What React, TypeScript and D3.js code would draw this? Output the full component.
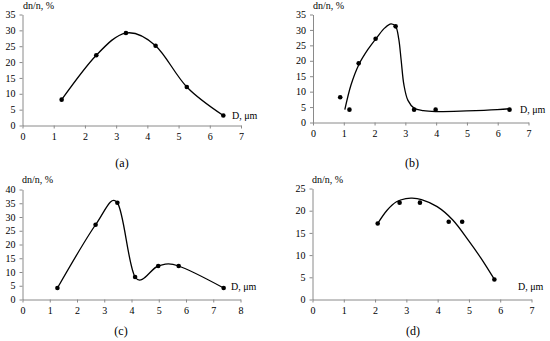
import React, { useEffect, useRef } from 'react';
import * as d3 from 'd3';

// (a) measured points, curve passes through them
const aD = [1.27, 2.38, 3.33, 4.28, 5.28, 6.45];
const aN = [8, 22, 29, 25, 12, 3];

const bD = [0.9, 1.2, 1.5, 2.05, 2.7, 3.3, 4.0, 6.4];
const bN = [8, 4, 19, 27, 31, 4, 4, 4];
const bFitD = [1.05, 1.25, 1.5, 1.8, 2.1, 2.35, 2.55, 2.7, 2.8, 2.88, 2.97, 3.1, 3.3, 3.6, 4.0, 5.0, 6.0, 6.4];
const bFitN = [4, 12, 18.5, 23.5, 27.5, 30.5, 31.8, 31, 27, 20, 12, 7, 4.5, 3.7, 3.4, 3.6, 4.0, 4.3];

// (c) measured points, curve passes through them
const cD = [1.3, 2.7, 3.5, 4.15, 5.0, 5.75, 7.4];
const cN = [4, 27, 35, 8, 12, 12, 4];

// (d) measured points and the fitted curve
const dD = [2.1, 2.8, 3.45, 4.37, 4.8, 5.83];
const dN = [17, 21.7, 21.7, 17.4, 17.4, 4.4];
const dFitD = [2.1, 2.4, 2.7, 3.0, 3.2, 3.5, 4.0, 4.5, 5.0, 5.4, 5.83];
const dFitN = [17, 20, 21.9, 22.6, 22.7, 22.4, 20.8, 17.8, 13.2, 9.2, 4.4];

const panels = [
  { id: 'a', d: aD, n: aN, fd: aD, fn: aN, xMax: 7, yMax: 35, x0: 22, x1: 240.5, y0: 125, y1: 14,
    yLab: [23, 9], xLab: [232, 119], cap: [122, 167] },
  { id: 'b', d: bD, n: bN, fd: bFitD, fn: bFitN, xMax: 7, yMax: 35, x0: 312.5, x1: 528, y0: 122, y1: 14,
    yLab: [313, 9], xLab: [520, 113], cap: [412, 167] },
  { id: 'c', d: cD, n: cN, fd: cD, fn: cN, xMax: 8, yMax: 40, x0: 22, x1: 240, y0: 299, y1: 189,
    yLab: [22, 183], xLab: [231, 290], cap: [121, 335] },
  { id: 'd', d: dD, n: dN, fd: dFitD, fn: dFitN, xMax: 7, yMax: 25, x0: 312, x1: 531, y0: 299, y1: 188,
    yLab: [312, 183], xLab: [518, 290], cap: [413, 335] },
];

const App = () => {
  const svgRef = useRef(null);

  useEffect(() => {
    const svg = d3.select(svgRef.current);
    svg.selectAll('*').remove();
    const font = 'Liberation Serif';

    panels.forEach((p) => {
      const x = d3.scaleLinear().domain([0, p.xMax]).range([p.x0, p.x1]);
      const y = d3.scaleLinear().domain([0, p.yMax]).range([p.y0, p.y1]);
      const g = svg.append('g');

      const xa = g.append('g')
        .attr('transform', `translate(0.5, ${p.y0 + 0.5})`)
        .call(d3.axisBottom(x).tickValues(d3.range(0, p.xMax + 1)).tickFormat(d3.format('d'))
          .tickSize(3).tickSizeOuter(0).tickPadding(4));
      const ya = g.append('g')
        .attr('transform', `translate(${p.x0 + 0.5}, 0.5)`)
        .call(d3.axisLeft(y).tickValues(d3.range(0, p.yMax + 1, 5)).tickFormat(d3.format('d'))
          .tickSize(3).tickSizeOuter(0).tickPadding(4));
      [xa, ya].forEach((a) => {
        a.attr('font-family', null);
        a.selectAll('path, line').attr('stroke', '#8a8a8a');
        a.selectAll('text').style('font-family', font).style('font-size', '10px').attr('fill', '#000');
      });

      const line = d3.line()
        .x((v) => x(v[0]))
        .y((v) => y(v[1]))
        .curve(p.fd === p.d ? d3.curveCardinal.tension(0) : d3.curveCatmullRom);
      g.append('path')
        .attr('d', line(p.fd.map((v, i) => [v, p.fn[i]])))
        .attr('fill', 'none')
        .attr('stroke', '#000')
        .attr('stroke-width', 1.3);

      g.selectAll('circle')
        .data(p.d.map((v, i) => [v, p.n[i]]))
        .enter()
        .append('circle')
        .attr('cx', (v) => x(v[0]))
        .attr('cy', (v) => y(v[1]))
        .attr('r', 2.3)
        .attr('fill', '#000');

      g.append('text').attr('x', p.yLab[0]).attr('y', p.yLab[1])
        .style('font-family', font).style('font-size', '10px').text('dn/n, %');
      g.append('text').attr('x', p.xLab[0]).attr('y', p.xLab[1])
        .style('font-family', font).style('font-size', '10px').text('D, μm');
      g.append('text').attr('x', p.cap[0]).attr('y', p.cap[1])
        .attr('text-anchor', 'middle')
        .style('font-family', font).style('font-size', '12px').text(`(${p.id})`);
    });
  }, []);

  return (
    <svg ref={svgRef} width={550} height={341}
      style={{ position: 'absolute', left: 0, top: 0, background: '#fff' }} />
  );
};

export default App;
